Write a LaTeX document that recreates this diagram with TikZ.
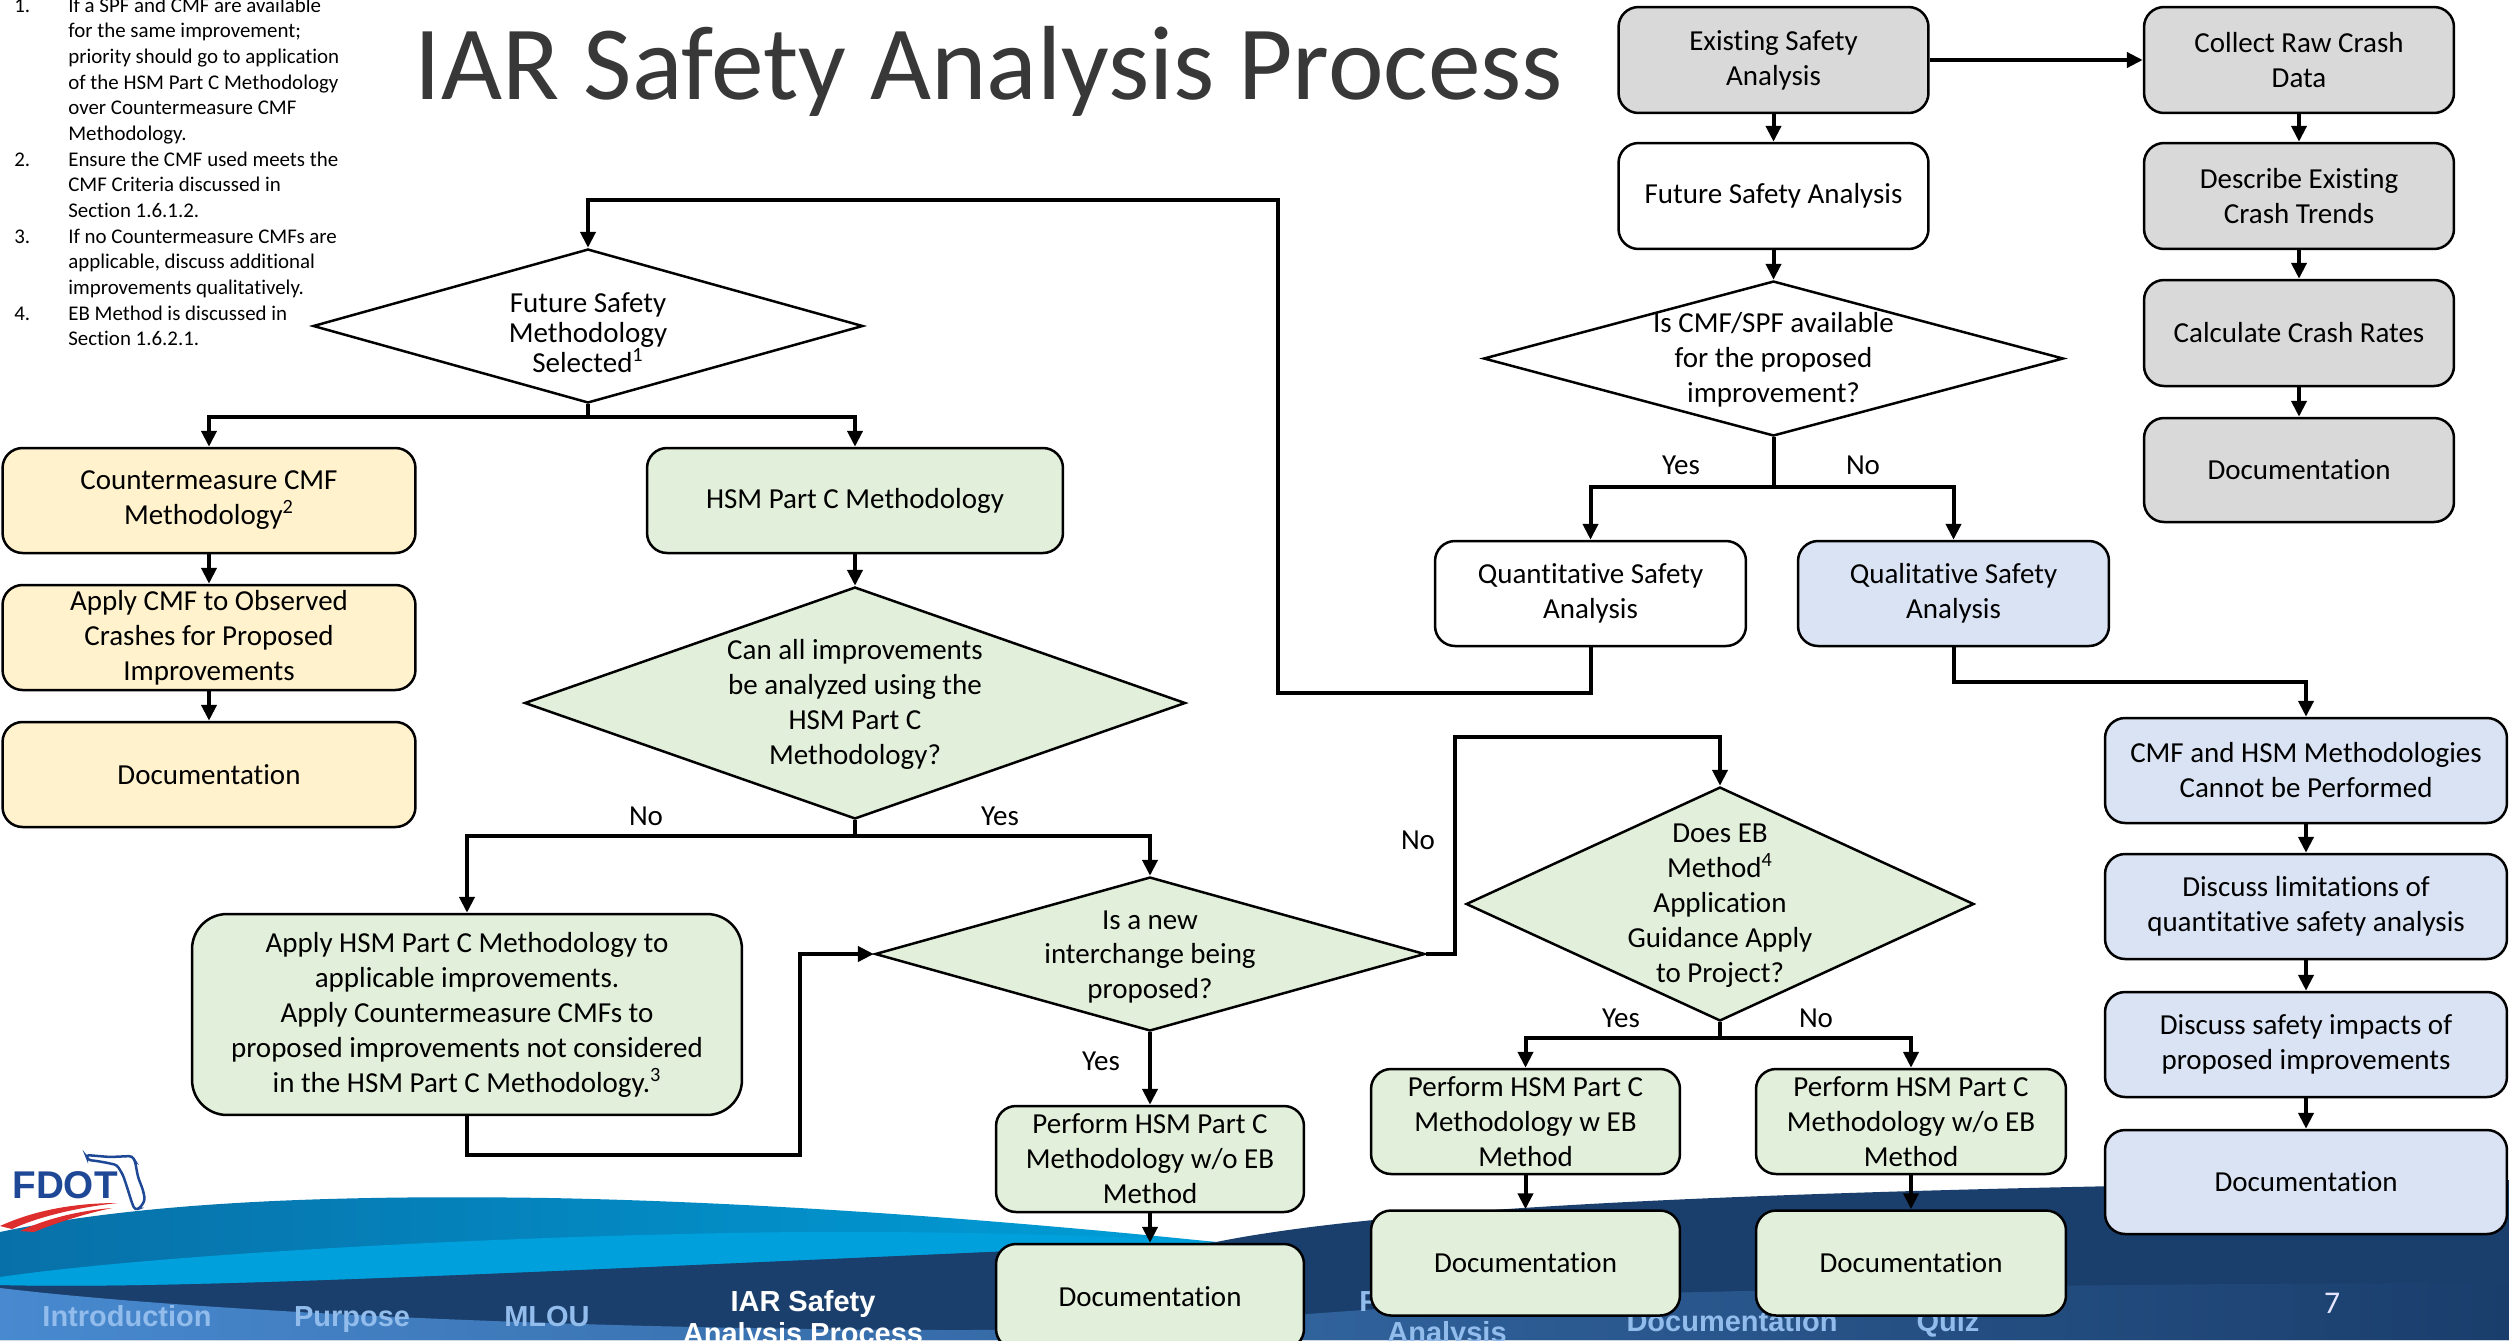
\documentclass[tikz,border=0pt]{standalone}
\usepackage{fontspec}
\setmainfont{Carlito}[Ligatures=NoCommon]
\newfontfamily\navfont{Liberation Sans}
\usetikzlibrary{arrows.meta,shapes.geometric}

\newcommand\boxfont{\fontsize{16.5}{19.9}\selectfont}
\newcommand\tightfont{\fontsize{16.5}{17.1}\selectfont}
\newcommand\notefont{\fontsize{11.9}{14.6}\selectfont}
\newcommand\barfont{\navfont\bfseries\fontsize{16.5}{18.5}\selectfont}

\definecolor{boxgray}{HTML}{D9D9D9}
\definecolor{boxyellow}{HTML}{FFF2CC}
\definecolor{boxgreen}{HTML}{E2EFDA}
\definecolor{boxblue}{HTML}{DAE3F3}
\definecolor{navy}{RGB}{27,63,108}
\definecolor{tealdark}{RGB}{8,112,168}
\definecolor{tealbright}{RGB}{0,158,216}
\definecolor{skyband}{RGB}{0,160,220}
\definecolor{stripL}{RGB}{72,137,207}
\definecolor{stripR}{RGB}{26,62,108}
\definecolor{navtext}{RGB}{145,188,235}
\definecolor{fdotblue}{RGB}{30,72,150}
\definecolor{fdotred}{RGB}{222,45,45}

\tikzset{
  box/.style={draw=black, line width=0.05cm, rounded corners=0.4cm, align=center,
    inner sep=0pt, font=\boxfont, text=black},
  graybox/.style={box, fill=boxgray, minimum width=6.2cm, minimum height=2.12cm},
  whitebox/.style={box, fill=white, minimum width=6.2cm, minimum height=2.12cm},
  yellowbox/.style={box, fill=boxyellow, minimum width=8.26cm, minimum height=2.1cm},
  greenbox/.style={box, fill=boxgreen, minimum width=6.18cm, minimum height=2.1cm},
  bluebox/.style={box, fill=boxblue, minimum width=8.04cm, minimum height=2.1cm},
  decision/.style={diamond, draw=black, line width=0.05cm, inner sep=0pt},
  dtext/.style={align=center, inner sep=0pt, font=\boxfont},
  lbl/.style={inner sep=0pt, font=\boxfont},
  conn/.style={draw=black, line width=0.08cm},
  arr/.style={conn, -{Triangle[length=0.32cm,width=0.3cm]}},
  navlbl/.style={inner sep=0pt, font=\barfont, text=navtext, anchor=base},
}

\begin{document}
\begin{tikzpicture}[x=0.02cm, y=-0.02cm]
\useasboundingbox (0,0) rectangle (2509,1340);
\clip (0,0) rectangle (2509,1340);
\fill[white] (0,0) rectangle (2509,1340);

% ---------- footer waves ----------
\fill[navy] (0,1282) .. controls (400,1275) and (900,1255) .. (1216,1242)
  .. controls (1400,1205) and (1800,1188) .. (2509,1180) -- (2509,1340) -- (0,1340) -- cycle;
\shade[left color=tealdark, right color=tealbright]
  (0,1232) .. controls (150,1200) and (350,1195) .. (550,1198)
  .. controls (800,1203) and (1050,1225) .. (1216,1242)
  .. controls (600,1268) and (200,1290) .. (0,1285) -- cycle;
\fill[skyband] (0,1277) .. controls (150,1255) and (500,1235) .. (800,1232)
  .. controls (1000,1231) and (1150,1238) .. (1216,1242)
  .. controls (600,1268) and (200,1290) .. (0,1285) -- cycle;
\shade[left color=stripL, right color=stripR]
  (0,1288) .. controls (200,1312) and (600,1330) .. (960,1330)
  .. controls (1200,1330) and (1400,1300) .. (1700,1292)
  .. controls (2000,1285) and (2300,1283) .. (2509,1283) -- (2509,1340) -- (0,1340) -- cycle;

% footer navigation
\node[navlbl] (navintro) at (127,1326) {Introduction};
\node[navlbl] (navpurpose) at (352,1326) {Purpose};
\node[navlbl] (navmlou) at (547,1326) {MLOU};
\node[navlbl, text=white] (naviar) at (803,1311) {IAR Safety};
\node[navlbl, text=white] (naviar2) at (803,1343) {Analysis Process};
\node[navlbl] (navfuture) at (1452,1311) {Future Safety};
\node[navlbl] (navfuture2) at (1447,1342) {Analysis};
\begin{scope}
  \clip (1560,1313) rectangle (2100,1340);
  \node[navlbl] (navdoc) at (1732,1331) {Documentation};
  \node[navlbl] (navquiz) at (1948,1331) {Quiz};
\end{scope}
\node[inner sep=0pt, font=\fontsize{18}{18}\selectfont, text=white!90!blue] (pagenum) at (2332,1303) {7};

% FDOT logo
\fill[fdotred] (0,1226) .. controls (35,1210) and (75,1203) .. (118,1203)
  .. controls (80,1207) and (40,1216) .. (12,1229) -- cycle;
\fill[fdotred] (20,1231) .. controls (50,1217) and (85,1210) .. (112,1208)
  .. controls (88,1213) and (58,1222) .. (34,1232) -- cycle;
\node[anchor=base east, inner sep=0pt, font=\navfont\bfseries\fontsize{22}{22}\selectfont,
  text=fdotblue] (fdot) at (118,1198) {FDOT};
\draw[fdotblue, line width=0.05cm, rounded corners=0.06cm] (86,1155) -- (110,1157) -- (132,1156)
  -- (135,1161) -- (138,1177) -- (143,1190) -- (145,1200) -- (140,1208) -- (135,1210)
  -- (132,1203) -- (127,1187) -- (123,1175) -- (117,1165) -- (108,1163) -- (97,1161)
  -- (88,1160) -- cycle;

% ---------- title and notes ----------
\node[anchor=base, inner sep=0pt, font=\fontsize{60}{60}\selectfont, text=black!78] (title)
  at (989,99) {IAR Safety Analysis Process};

\node[anchor=north west, inner sep=0pt, font=\notefont] (notes) at (14,-6) {%
\begin{tabular}{@{}p{1.08cm}@{}l@{}}
1. & If a SPF and CMF are available\\
   & for the same improvement;\\
   & priority should go to application\\
   & of the HSM Part C Methodology\\
   & over Countermeasure CMF\\
   & Methodology.\\
2. & Ensure the CMF used meets the\\
   & CMF Criteria discussed in\\
   & Section 1.6.1.2.\\
3. & If no Countermeasure CMFs are\\
   & applicable, discuss additional\\
   & improvements qualitatively.\\
4. & EB Method is discussed in\\
   & Section 1.6.2.1.
\end{tabular}};

% ---------- existing safety analysis ----------
\node[graybox] (exist) at (1773.5,60) {Existing Safety\\Analysis};
\node[graybox] (collect) at (2299,60) {Collect Raw Crash\\Data};
\node[graybox] (describe) at (2299,196) {Describe Existing\\Crash Trends};
\node[graybox] (rates) at (2299,333) {Calculate Crash Rates};
\node[graybox, minimum height=2.08cm] (gdoc) at (2299,470) {Documentation};

% ---------- future safety analysis ----------
\node[whitebox] (future) at (1773.5,196) {Future Safety Analysis};
\node[decision, fill=white, minimum width=11.6cm, minimum height=3.1cm] (iscmf) at (1773.5,358.5) {};
\node[dtext] (iscmftext) at (1773.5,360) {Is CMF/SPF available\\for the proposed\\improvement?};
\node[whitebox, minimum width=6.22cm, minimum height=2.1cm] (quant) at (1590.5,593.5) {Quantitative Safety\\Analysis};
\node[box, fill=boxblue, minimum width=6.22cm, minimum height=2.1cm] (qual) at (1953.5,593.5) {Qualitative Safety\\Analysis};

% qualitative branch
\node[bluebox] (cmfhsm) at (2306,770.5) {CMF and HSM Methodologies\\Cannot be Performed};
\node[bluebox] (limits) at (2306,906.5) {Discuss limitations of\\quantitative safety analysis};
\node[bluebox] (impacts) at (2306,1044.5) {Discuss safety impacts of\\proposed improvements};
\node[bluebox, minimum height=2.08cm] (bdoc) at (2306,1182) {Documentation};

% methodology selection
\node[decision, fill=white, minimum width=11cm, minimum height=3.08cm] (fsm) at (588,326) {};
\node[dtext, font=\tightfont] (fsmtext) at (588,333) {Future Safety\\Methodology\\Selected\textsuperscript{1}};

\node[yellowbox] (cm) at (209,500.5) {Countermeasure CMF\\Methodology\textsuperscript{2}};
\node[yellowbox] (applycmf) at (209,637.5) {Apply CMF to Observed\\Crashes for Proposed\\Improvements};
\node[yellowbox] (ydoc) at (209,774.5) {Documentation};

\node[greenbox, minimum width=8.32cm] (hsm) at (855,500.5) {HSM Part C Methodology};
\node[decision, fill=boxgreen, minimum width=13.22cm, minimum height=4.64cm] (canall) at (855,703) {};
\node[dtext] (canalltext) at (855,704) {Can all improvements\\be analyzed using the\\HSM Part C\\Methodology?};

\node[greenbox, minimum width=11cm, minimum height=4.02cm, rounded corners=0.7cm] (applyhsm) at (467,1014.5)
  {Apply HSM Part C Methodology to\\applicable improvements.\\Apply Countermeasure CMFs to\\proposed improvements not considered\\in the HSM Part C Methodology.\textsuperscript{3}};

\node[decision, fill=boxgreen, minimum width=11cm, minimum height=3.08cm] (newint) at (1150,954) {};
\node[dtext] (newinttext) at (1150,957) {Is a new\\interchange being\\proposed?};
\node[greenbox, minimum width=6.16cm, minimum height=2.12cm] (perfmid) at (1150,1159) {Perform HSM Part C\\Methodology w/o EB\\Method};
\node[greenbox, minimum width=6.16cm] (doc1) at (1150,1296.5) {Documentation};

\node[decision, fill=boxgreen, minimum width=10.16cm, minimum height=4.68cm] (eb) at (1720,904) {};
\node[dtext] (ebtext) at (1720,906) {Does EB\\Method\textsuperscript{4}\\Application\\Guidance Apply\\to Project?};
\node[greenbox] (perfw) at (1525.5,1121.5) {Perform HSM Part C\\Methodology w EB\\Method};
\node[greenbox] (doc2) at (1525.5,1263) {Documentation};
\node[greenbox, minimum width=6.2cm] (perfwo) at (1911,1121.5) {Perform HSM Part C\\Methodology w/o EB\\Method};
\node[greenbox, minimum width=6.2cm] (doc3) at (1911,1263) {Documentation};

% ---------- connectors ----------
\draw[arr] (exist) -- (collect);
\draw[arr] (exist) -- (future);
\draw[arr] (future) -- (iscmf);
\draw[arr] (collect) -- (describe);
\draw[arr] (describe) -- (rates);
\draw[arr] (rates) -- (gdoc);

\coordinate (j1) at (1773.5,487);
\draw[conn] (iscmf.south) -- (j1);
\draw[arr] (j1) -| (quant.north);
\draw[arr] (j1) -| (qual.north);
\node[lbl] (yes1) at (1681,465) {Yes};
\node[lbl] (no1) at (1863,465) {No};

\coordinate (q1) at (1278,693);
\coordinate (q2) at (1278,200);
\draw[arr] (quant.south) |- (q1) -- (q2) -| (fsm.north);

\coordinate (r1) at (2306,682);
\draw[arr] (qual.south) |- (r1) -- (cmfhsm.north);
\draw[arr] (cmfhsm) -- (limits);
\draw[arr] (limits) -- (impacts);
\draw[arr] (impacts) -- (bdoc);

\coordinate (j2) at (588,417);
\draw[conn] (fsm.south) -- (j2);
\draw[arr] (j2) -| (cm.north);
\draw[arr] (j2) -| (hsm.north);
\draw[arr] (cm) -- (applycmf);
\draw[arr] (applycmf) -- (ydoc);
\draw[arr] (hsm) -- (canall);

\coordinate (j3) at (855,836);
\draw[conn] (canall.south) -- (j3);
\draw[arr] (j3) -| (applyhsm.north);
\draw[arr] (j3) -| (newint.north);
\node[lbl] (no2) at (646,816) {No};
\node[lbl] (yes2) at (1000,816) {Yes};

\coordinate (a1) at (800,1155);
\coordinate (a2) at (800,954);
\draw[arr] (applyhsm.south) |- (a1) -- (a2) -- (newint.west);

\draw[arr] (newint) -- (perfmid);
\node[lbl] (yes3) at (1101,1061) {Yes};
\draw[arr] (perfmid) -- (doc1);

\coordinate (b1) at (1455,954);
\coordinate (b2) at (1720,737);
\draw[arr] (newint.east) -- (b1) |- (b2) -- (eb.north);
\node[lbl] (no3) at (1418,840) {No};

\coordinate (j4) at (1720,1038);
\draw[conn] (eb.south) -- (j4);
\draw[arr] (j4) -| (perfw.north);
\draw[arr] (j4) -| (perfwo.north);
\node[lbl] (yes4) at (1621,1018) {Yes};
\node[lbl] (no4) at (1816,1018) {No};
\draw[arr] (perfw) -- (doc2);
\draw[arr] (perfwo) -- (doc3);
\end{tikzpicture}
\end{document}
